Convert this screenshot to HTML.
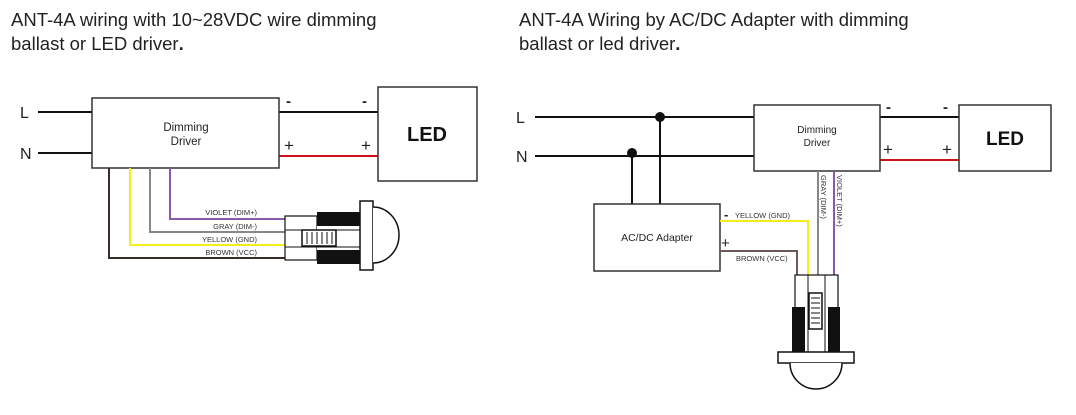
<!DOCTYPE html>
<html><head><meta charset="utf-8"><style>
html,body{margin:0;padding:0;background:#fff;}
svg{display:block;font-family:"Liberation Sans",Arial,sans-serif;}
</style></head><body>
<svg width="1076" height="415" viewBox="0 0 1076 415" xmlns="http://www.w3.org/2000/svg">
<rect width="1076" height="415" fill="#fff"/>
<text x="11" y="26" font-size="18.5" fill="#222">ANT-4A wiring with 10~28VDC wire dimming</text>
<text x="11" y="50" font-size="18.5" fill="#222">ballast or LED driver<tspan font-weight="bold">.</tspan></text>
<text x="519" y="26" font-size="18.5" fill="#222">ANT-4A Wiring by AC/DC Adapter with dimming</text>
<text x="519" y="50" font-size="18.5" fill="#222">ballast or led driver<tspan font-weight="bold">.</tspan></text>

<!-- LEFT -->
<g stroke="#111" stroke-width="2" fill="none">
<line x1="38" y1="112" x2="92" y2="112"/>
<line x1="38" y1="153" x2="92" y2="153"/>
<line x1="279" y1="112" x2="378" y2="112"/>
</g>
<line x1="279" y1="156" x2="378" y2="156" stroke="#d0101a" stroke-width="2"/>
<text x="20" y="118" font-size="16" fill="#222">L</text>
<text x="20" y="159" font-size="16" fill="#222">N</text>
<rect x="92" y="98" width="187" height="70" fill="#fff" stroke="#333" stroke-width="1.5"/>
<text x="186" y="131" font-size="11.5" text-anchor="middle" fill="#222">Dimming</text>
<text x="186" y="145" font-size="11.5" text-anchor="middle" fill="#222">Driver</text>
<rect x="378" y="87" width="99" height="94" fill="#fff" stroke="#333" stroke-width="1.5"/>
<text x="427" y="141" font-size="20" font-weight="bold" text-anchor="middle" fill="#111">LED</text>
<text x="286" y="106" font-size="15" font-weight="bold" fill="#222">-</text>
<text x="362" y="106" font-size="15" font-weight="bold" fill="#222">-</text>
<text x="284" y="151" font-size="17" fill="#222">+</text>
<text x="361" y="151" font-size="17" fill="#222">+</text>
<g fill="none" stroke-width="2">
<polyline points="109,168 109,258 287,258" stroke="#3a2a28"/>
<polyline points="130,168 130,245 287,245" stroke="#f5ee1a"/>
<polyline points="150,168 150,232 287,232" stroke="#888"/>
<polyline points="170,168 170,219 287,219" stroke="#8a5aa8"/>
</g>
<g font-size="7.5" fill="#333" text-anchor="end">
<text x="257" y="215">VIOLET (DIM+)</text>
<text x="257" y="229">GRAY (DIM-)</text>
<text x="257" y="242">YELLOW (GND)</text>
<text x="257" y="255">BROWN (VCC)</text>
</g>
<rect x="285" y="216" width="32" height="44" fill="#fff" stroke="#111" stroke-width="1.2"/>
<line x1="285" y1="230" x2="317" y2="230" stroke="#111"/>
<line x1="285" y1="247" x2="317" y2="247" stroke="#111"/>
<rect x="317" y="212" width="43" height="52" fill="#111"/>
<rect x="317" y="226" width="43" height="24" fill="#fff"/>
<line x1="317" y1="230" x2="360" y2="230" stroke="#111"/>
<line x1="317" y1="247" x2="360" y2="247" stroke="#111"/>
<rect x="302" y="230" width="34" height="16" fill="#fff" stroke="#111" stroke-width="1.5"/>
<g stroke="#111" stroke-width="1"><line x1="307" y1="232" x2="307" y2="244"/><line x1="312" y1="232" x2="312" y2="244"/><line x1="317" y1="232" x2="317" y2="244"/><line x1="322" y1="232" x2="322" y2="244"/><line x1="327" y1="232" x2="327" y2="244"/><line x1="332" y1="232" x2="332" y2="244"/></g>
<rect x="360" y="201" width="13" height="69" fill="#fff" stroke="#111" stroke-width="1.5"/>
<path d="M373 207 A26 28 0 0 1 373 263" fill="#fff" stroke="#111" stroke-width="1.5"/>

<!-- RIGHT -->
<g stroke="#111" stroke-width="2" fill="none">
<line x1="535" y1="117" x2="754" y2="117"/>
<line x1="535" y1="156" x2="754" y2="156"/>
<line x1="880" y1="117" x2="959" y2="117"/>
<line x1="660" y1="117" x2="660" y2="204"/>
<line x1="632" y1="153" x2="632" y2="204"/>
</g>
<circle cx="660" cy="117" r="5" fill="#111"/>
<circle cx="632" cy="153" r="5" fill="#111"/>
<line x1="880" y1="160" x2="959" y2="160" stroke="#d0101a" stroke-width="2"/>
<text x="516" y="123" font-size="16" fill="#222">L</text>
<text x="516" y="162" font-size="16" fill="#222">N</text>
<rect x="754" y="105" width="126" height="66" fill="#fff" stroke="#333" stroke-width="1.5"/>
<text x="817" y="133" font-size="10" text-anchor="middle" fill="#222">Dimming</text>
<text x="817" y="146" font-size="10" text-anchor="middle" fill="#222">Driver</text>
<rect x="959" y="105" width="92" height="66" fill="#fff" stroke="#333" stroke-width="1.5"/>
<text x="1005" y="145" font-size="19" font-weight="bold" text-anchor="middle" fill="#111">LED</text>
<text x="886" y="112" font-size="15" font-weight="bold" fill="#222">-</text>
<text x="943" y="112" font-size="15" font-weight="bold" fill="#222">-</text>
<text x="883" y="155" font-size="17" fill="#222">+</text>
<text x="942" y="155" font-size="17" fill="#222">+</text>
<rect x="594" y="204" width="126" height="67" fill="#fff" stroke="#333" stroke-width="1.5"/>
<text x="657" y="241" font-size="10.5" text-anchor="middle" fill="#222">AC/DC Adapter</text>
<g fill="none" stroke-width="2">
<polyline points="720,221 808,221 808,276" stroke="#f5ee1a"/>
<polyline points="720,251 797,251 797,276" stroke="#6a5a58"/>
<line x1="818" y1="171" x2="818" y2="276" stroke="#888"/>
<line x1="834" y1="171" x2="834" y2="276" stroke="#8a5aa8"/>
</g>
<text x="724" y="219" font-size="13" font-weight="bold" fill="#222">-</text>
<text x="735" y="218" font-size="7.5" fill="#333">YELLOW (GND)</text>
<text x="721" y="248" font-size="15" fill="#222">+</text>
<text x="736" y="261" font-size="7.5" fill="#333">BROWN (VCC)</text>
<text transform="translate(821,175) rotate(90)" font-size="7.5" fill="#333">GRAY (DIM-)</text>
<text transform="translate(837,175) rotate(90)" font-size="7.5" fill="#333">VIOLET (DIM+)</text>
<rect x="795" y="275" width="43" height="34" fill="#fff" stroke="#111" stroke-width="1.2"/>
<line x1="808" y1="275" x2="808" y2="309" stroke="#111"/>
<line x1="825" y1="275" x2="825" y2="309" stroke="#111"/>
<rect x="792" y="307" width="48" height="46" fill="#111"/>
<rect x="805" y="307" width="23" height="46" fill="#fff"/>
<line x1="808" y1="307" x2="808" y2="353" stroke="#111"/>
<line x1="825" y1="307" x2="825" y2="353" stroke="#111"/>
<rect x="809" y="293" width="13" height="36" fill="#fff" stroke="#111" stroke-width="1.5"/>
<g stroke="#111" stroke-width="1"><line x1="811" y1="298" x2="820" y2="298"/><line x1="811" y1="303" x2="820" y2="303"/><line x1="811" y1="308" x2="820" y2="308"/><line x1="811" y1="313" x2="820" y2="313"/><line x1="811" y1="318" x2="820" y2="318"/><line x1="811" y1="323" x2="820" y2="323"/></g>
<rect x="778" y="352" width="76" height="11" fill="#fff" stroke="#111" stroke-width="1.5"/>
<path d="M790 363 A26 26 0 0 0 842 363" fill="#fff" stroke="#111" stroke-width="1.5"/>
</svg>
</body></html>
